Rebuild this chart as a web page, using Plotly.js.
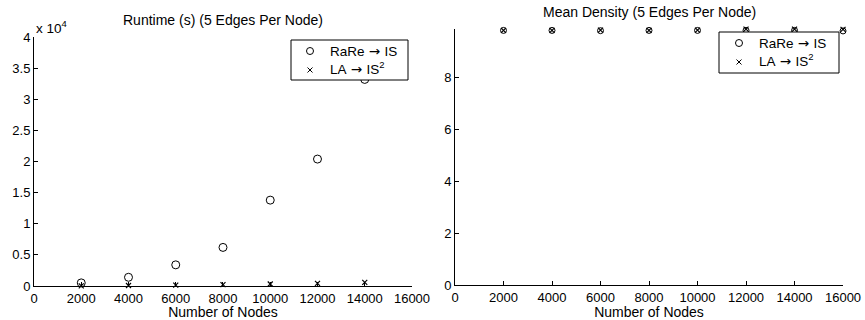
<!DOCTYPE html>
<html>
<head>
<meta charset="utf-8">
<script src="https://cdn.plot.ly/plotly-3.0.1.min.js"></script>
<style>html,body{margin:0;padding:0;background:#fff;}#chart{width:865px;height:320px;}</style>
</head>
<body>
<div id="chart"></div>
<script>
// ---- data ----
const nodesRuntime = [2000, 4000, 6000, 8000, 10000, 12000, 14000];
const runtimeRaRe = [500, 1400, 3400, 6200, 13800, 20400, 33200];
const runtimeLA = [30, 80, 150, 220, 320, 430, 580];
const nodesDensity = [2000, 4000, 6000, 8000, 10000, 12000, 14000, 16000];
const densityRaRe = [9.80, 9.80, 9.79, 9.80, 9.80, 9.80, 9.80, 9.78];
const densityLA = [9.80, 9.80, 9.81, 9.80, 9.81, 9.85, 9.85, 9.84];
const ARROW = '<span style="font-family:DejaVu Sans">\u00a0\u2192\u00a0</span>';
const seriesNames = ["RaRe" + ARROW + "IS", "LA" + ARROW + "IS<sup>2</sup>"];
const xTickVals = [0, 2000, 4000, 6000, 8000, 10000, 12000, 14000, 16000];
const xTickText = ["0", "2000", "4000", "6000", "8000", "10000", "12000", "14000", "16000"];
const runtimeTickVals = [0, 5000, 10000, 15000, 20000, 25000, 30000, 35000, 40000];
const runtimeTickText = ["0", "0.5", "1", "1.5", "2", "2.5", "3", "3.5", "4"];
const densityTickVals = [0, 2, 4, 6, 8];
const densityTickText = ["0", "2", "4", "6", "8"];
const titles = ["Runtime (s) (5 Edges Per Node)", "Mean Density (5 Edges Per Node)"];
const xTitle = "Number of Nodes";

const W = 865, H = 320;
const FONT = "Liberation Sans, Arial, sans-serif";
const px = v => v / W;
const py = v => 1 - v / H;

const traces = [
  {x: nodesRuntime, y: runtimeRaRe, name: "RaRe \u2192 IS", mode: "markers", type: "scatter",
   marker: {symbol: "circle-open", size: 8, color: "#000", line: {width: 1, color: "#000"}},
   xaxis: "x", yaxis: "y", cliponaxis: false},
  {x: nodesRuntime, y: runtimeLA, name: "LA \u2192 IS2", mode: "markers", type: "scatter",
   marker: {symbol: "x-thin-open", size: 5, color: "#000", line: {width: 1.2, color: "#000"}},
   xaxis: "x", yaxis: "y", cliponaxis: false},
  {x: nodesDensity, y: densityRaRe, name: "RaRe \u2192 IS", mode: "markers", type: "scatter",
   marker: {symbol: "circle-open", size: 6, color: "#000", line: {width: 1, color: "#000"}},
   xaxis: "x2", yaxis: "y2", cliponaxis: false},
  {x: nodesDensity, y: densityLA, name: "LA \u2192 IS2", mode: "markers", type: "scatter",
   marker: {symbol: "x-thin-open", size: 5, color: "#000", line: {width: 1.2, color: "#000"}},
   xaxis: "x2", yaxis: "y2", cliponaxis: false}
];

const axBase = {
  showgrid: false, zeroline: false, showline: true, linecolor: "#000", linewidth: 1,
  ticks: "inside", ticklen: 4, tickcolor: "#000", tickwidth: 1,
  tickfont: {family: FONT, size: 13, color: "#000"}, mirror: false
};

// manual legends (box + symbols + labels), positioned in pixels
function legendParts(box, symX, rowY, textX) {
  const shapes = [
    {type: "rect", xref: "paper", yref: "paper", layer: "above",
     x0: px(box[0]), x1: px(box[1]), y0: py(box[3]), y1: py(box[2]),
     fillcolor: "#fff", line: {color: "#000", width: 1}},
    {type: "circle", xref: "paper", yref: "paper", layer: "above", xsizemode: "pixel", ysizemode: "pixel",
     xanchor: px(symX), yanchor: py(rowY[0]), x0: -3.5, x1: 3.5, y0: -3.5, y1: 3.5,
     line: {color: "#000", width: 1}},
    {type: "line", xref: "paper", yref: "paper", layer: "above", xsizemode: "pixel", ysizemode: "pixel",
     xanchor: px(symX), yanchor: py(rowY[1]), x0: -2.5, x1: 2.5, y0: -2.5, y1: 2.5,
     line: {color: "#000", width: 1}},
    {type: "line", xref: "paper", yref: "paper", layer: "above", xsizemode: "pixel", ysizemode: "pixel",
     xanchor: px(symX), yanchor: py(rowY[1]), x0: -2.5, x1: 2.5, y0: 2.5, y1: -2.5,
     line: {color: "#000", width: 1}}
  ];
  const annotations = seriesNames.map((t, i) => ({
    text: t, xref: "paper", yref: "paper", x: px(textX), y: py(rowY[i] + (i === 1 ? -2 : 0)),
    xanchor: "left", yanchor: "middle", showarrow: false,
    font: {family: FONT, size: 13.5, color: "#000"}
  }));
  return {shapes, annotations};
}
const legL = legendParts([291, 408, 40, 80], 310, [51, 70], 328);
const legR = legendParts([719, 839, 32, 73], 739, [43, 62], 757);

const layout = {
  width: W, height: H, paper_bgcolor: "#fff", plot_bgcolor: "rgba(0,0,0,0)",
  margin: {l: 0, r: 0, t: 0, b: 0}, showlegend: false,
  font: {family: FONT, color: "#000"},
  xaxis: Object.assign({}, axBase, {domain: [0.0393, 0.4763], range: [0, 16000], tickvals: xTickVals,
    ticktext: xTickText, anchor: "y", title: {text: xTitle, font: {family: FONT, size: 14}, standoff: 0}}),
  yaxis: Object.assign({}, axBase, {domain: [0.10625, 0.884], range: [0, 40000], tickvals: runtimeTickVals,
    ticktext: runtimeTickText, anchor: "x"}),
  xaxis2: Object.assign({}, axBase, {domain: [0.526, 0.9746], range: [0, 16000], tickvals: xTickVals,
    ticktext: xTickText, anchor: "y2", title: {text: xTitle, font: {family: FONT, size: 14}, standoff: 0}}),
  yaxis2: Object.assign({}, axBase, {domain: [0.109, 0.909], range: [0, 9.85], tickvals: densityTickVals,
    ticktext: densityTickText, anchor: "x2"}),
  shapes: legL.shapes.concat(legR.shapes),
  annotations: [
    {text: titles[0], xref: "paper", yref: "paper", x: px(223), y: py(20), xanchor: "center", yanchor: "middle",
     showarrow: false, font: {family: FONT, size: 14, color: "#000"}},
    {text: titles[1], xref: "paper", yref: "paper", x: px(649), y: py(12), xanchor: "center", yanchor: "middle",
     showarrow: false, font: {family: FONT, size: 14, color: "#000"}},
    {text: "x 10<sup>4</sup>", xref: "paper", yref: "paper", x: px(34), y: py(27), xanchor: "left", yanchor: "middle",
     showarrow: false, font: {family: FONT, size: 13.5, color: "#000"}}
  ].concat(legL.annotations, legR.annotations)
};
Plotly.newPlot("chart", traces, layout, {staticPlot: true, displayModeBar: false});
</script>
</body>
</html>
